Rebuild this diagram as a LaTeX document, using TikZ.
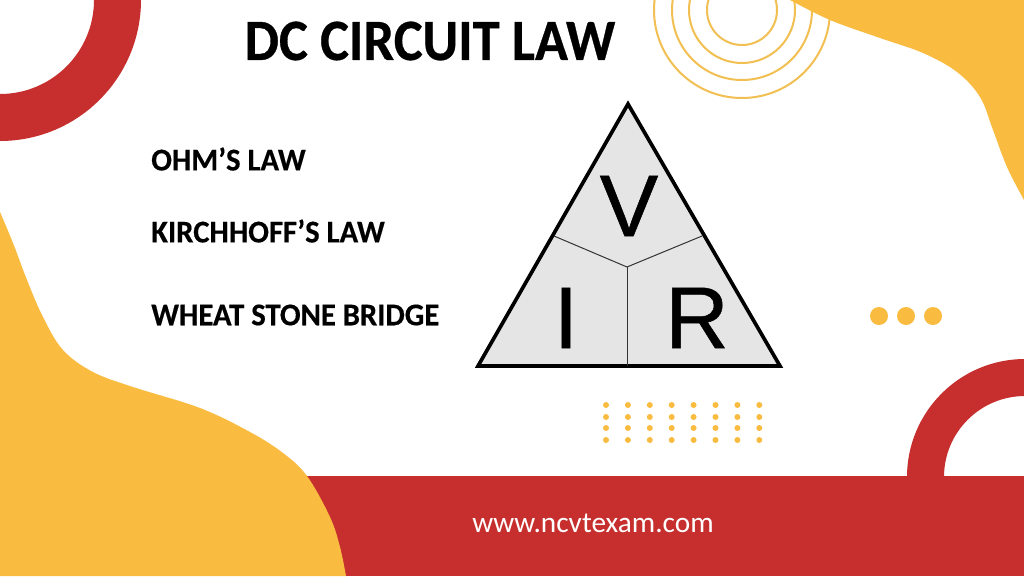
\documentclass[tikz,border=0pt]{standalone}
\usepackage{fontspec}
\setmainfont{Carlito}
\newfontfamily\arialfont[FakeBold=0.6]{Liberation Sans}
\newfontfamily\titlefont[FakeStretch=0.93,FakeBold=0.5]{Carlito Bold}
\newfontfamily\lawfont[FakeStretch=0.97,FakeBold=0.4]{Carlito Bold}
\definecolor{blobyellow}{HTML}{F9BC40}
\definecolor{ringyellow}{HTML}{F2C052}
\definecolor{bandred}{HTML}{C62F2E}
\definecolor{trianglegray}{HTML}{E6E5E6}
\tikzset{
	lawtext/.style={anchor=west, inner sep=0pt, font=\lawfont\fontsize{27}{27}\selectfont},
	triletter/.style={inner sep=0pt, font=\arialfont\fontsize{75}{75}\selectfont},
	spoke/.style={line width=0.3mm, color=black!80}
}

\begin{document}
\begin{tikzpicture}[x=0.03cm, y=-0.03cm]
		%%%%% START %%%%%
		\useasboundingbox (0, 0) rectangle (1024, 576);
		\clip (0, 0) rectangle (1024, 576);
		\fill[white] (0, 0) rectangle (1024, 576);
		
		\draw[line width=1.11cm, color=bandred] (925.5, 477) arc (180:360:99.5);
		\fill[bandred] (0, 476) rectangle (1024, 576);
		\draw[line width=1.41cm, color=bandred] (0, 0) circle (117.5);
		
		\fill[blobyellow] plot[smooth, tension=0.6] coordinates {(0, 212) (13, 243) (27, 280) (43, 317) (63, 350) (93, 372) (133, 387) (200, 408) (250, 432) (283, 453) (307, 476) (330, 517) (340, 547) (346, 576)} -- (0, 576) -- cycle;
		
		\foreach \rad in {35, 53, 70, 88}
			\draw[line width=0.6mm, color=ringyellow] (742, 10) circle (\rad);
		
		\fill[blobyellow] plot[smooth, tension=0.6] coordinates {(790, 0) (830, 20) (880, 38) (923, 53) (957, 72) (980, 97) (993, 130) (1007, 167) (1024, 200)} -- (1024, 0) -- cycle;
		
		\node[inner sep=0pt, font=\titlefont\fontsize{50}{50}\selectfont] (title) at (430, 41) {DC CIRCUIT LAW};
		\node[lawtext] (ohm) at (151, 159) {OHM’S LAW};
		\node[lawtext] (kirchhoff) at (151, 231) {KIRCHHOFF’S LAW};
		\node[lawtext] (bridge) at (151, 315) {WHEAT STONE BRIDGE};
		
		\draw[line width=1.1mm, line join=miter, fill=trianglegray] (628, 104) -- (478, 366) -- (780, 366) -- cycle;
		\coordinate (hub) at (627, 267);
		\coordinate (leftend) at (554, 236);
		\coordinate (rightend) at (702, 236);
		\coordinate (footend) at (627, 366);
		\draw[spoke] (leftend) -- (hub) -- (rightend);
		\draw[spoke] (hub) -- (footend);
		
		\node[triletter] (volt) at (629, 206) {V};
		\node[triletter] (amp) at (566, 318) {I};
		\node[triletter] (ohms) at (697, 318) {R};
		
		\foreach \xpos in {879, 906, 933}
			\fill[blobyellow] (\xpos, 316) circle (9);
		
		\foreach \col in {0,...,7}
			\foreach \ypos in {405, 417, 428, 440}
				\fill[blobyellow] (606 + \col * 21.9, \ypos) circle (3);
		
		\node[inner sep=0pt, text=white, font=\fontsize{25}{25}\selectfont] (site) at (593, 523) {www.ncvtexam.com};
		%%%%% END %%%%%
	\end{tikzpicture}
\end{document}
